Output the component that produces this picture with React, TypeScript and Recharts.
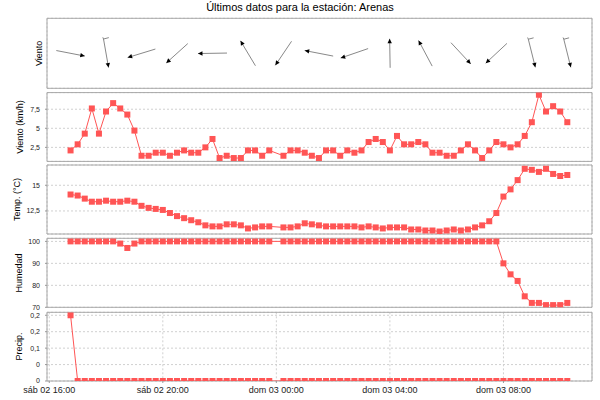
import React from 'react';
import { ComposedChart, Line, Scatter, XAxis, YAxis, CartesianGrid, ReferenceArea } from 'recharts';

const chartTitle = 'Últimos datos para la estación: Arenas';

const times = [
  '16:45', '17:00', '17:15', '17:30', '17:45',
  '18:00', '18:15', '18:30', '18:45',
  '19:00', '19:15', '19:30', '19:45',
  '20:00', '20:15', '20:30', '20:45',
  '21:00', '21:15', '21:30', '21:45',
  '22:00', '22:15', '22:30', '22:45',
  '23:00', '23:15', '23:30', '23:45',
  '00:15', '00:30', '00:45',
  '01:00', '01:15', '01:30', '01:45',
  '02:00', '02:15', '02:30', '02:45',
  '03:00', '03:15', '03:30', '03:45',
  '04:00', '04:15', '04:30', '04:45',
  '05:00', '05:15', '05:30', '05:45',
  '06:00', '06:15', '06:30', '06:45',
  '07:00', '07:15', '07:30', '07:45',
  '08:00', '08:15', '08:30', '08:45',
  '09:00', '09:15', '09:30', '09:45',
  '10:00', '10:15',
];

const windSpeed = [
  2.1, 2.9, 4.3, 7.6, 4.3,
  7.2, 8.3, 7.6, 6.8,
  4.7, 1.4, 1.4, 1.8,
  1.8, 1.4, 1.8, 2.1,
  1.8, 1.8, 2.5, 3.6,
  1.1, 1.4, 1.1, 1.1,
  2.1, 2.1, 1.4, 2.1,
  1.4, 2.1, 2.1,
  1.8, 1.4, 1.1, 2.1,
  2.1, 1.4, 2.1, 1.8,
  2.1, 3.2, 3.6, 3.2,
  2.1, 4.0, 2.9, 2.9,
  3.2, 2.9, 1.8, 1.8,
  1.4, 1.4, 2.1, 2.9,
  2.1, 1.1, 2.1, 3.2,
  2.9, 2.5, 2.9, 4.0,
  5.8, 9.4, 7.2, 7.9,
  7.2, 5.8,
];

const temperature = [
  14.1, 14.0, 13.7, 13.4, 13.4,
  13.5, 13.4, 13.4, 13.5,
  13.4, 13.0, 12.8, 12.7,
  12.6, 12.3, 12.0, 11.8,
  11.6, 11.4, 11.1, 11.0,
  11.0, 11.2, 11.2, 11.1,
  10.8, 10.9, 11.0, 11.0,
  10.9, 10.9, 11.0,
  11.3, 11.2, 11.1, 11.0,
  11.0, 11.0, 11.0, 11.0,
  10.9, 11.0, 10.9, 10.8,
  10.9, 10.9, 10.9, 10.7,
  10.7, 10.6, 10.6, 10.5,
  10.6, 10.7, 10.6, 10.7,
  10.9, 11.1, 11.5, 12.3,
  13.9, 14.6, 15.5, 16.6,
  16.5, 16.3, 16.6, 16.1,
  15.9, 16.0,
];

const humidity = [
  100, 100, 100, 100, 100,
  100, 100, 99, 97,
  99, 100, 100, 100,
  100, 100, 100, 100,
  100, 100, 100, 100,
  100, 100, 100, 100,
  100, 100, 100, 100,
  100, 100, 100,
  100, 100, 100, 100,
  100, 100, 100, 100,
  100, 100, 100, 100,
  100, 100, 100, 100,
  100, 100, 100, 100,
  100, 100, 100, 100,
  100, 100, 100, 100,
  90, 85, 82, 75,
  72, 72, 71, 71,
  71, 72,
];

const precipitation = [
  0.2, 0, 0, 0, 0,
  0, 0, 0, 0,
  0, 0, 0, 0,
  0, 0, 0, 0,
  0, 0, 0, 0,
  0, 0, 0, 0,
  0, 0, 0, 0,
  0, 0, 0,
  0, 0, 0, 0,
  0, 0, 0, 0,
  0, 0, 0, 0,
  0, 0, 0, 0,
  0, 0, 0, 0,
  0, 0, 0, 0,
  0, 0, 0, 0,
  0, 0, 0, 0,
  0, 0, 0, 0,
  0, 0,
];

const windDirTimes = [
  '16:45', '18:00', '19:15', '20:30', '21:45', '23:00', '00:15', '01:30',
  '02:45', '04:00', '05:15', '06:30', '07:45', '09:00', '10:15',
];
// direction the wind comes from, degrees
const windFrom = [281, 350, 73, 48, 89, 149, 34, 101, 71, 179, 152, 317, 47, 346, 346];

const xTickValues = [0, 4, 8, 12, 16];
const xTickLabels = ['sáb 02 16:00', 'sáb 02 20:00', 'dom 03 00:00', 'dom 03 04:00', 'dom 03 08:00'];
const dirGridTicks = [1, 2, 3, 4];
const speedTicks = [2.5, 5, 7.5];
const tempTicks = [12.5, 15];
const humTicks = [70, 80, 90, 100];
const precipTicks = [0, 0.05, 0.1, 0.15, 0.2];
const precipTickLabels = ['0', '0', '0,1', '0,2', '0,2'];

const toHours = (s: string) => {
  const [h, m] = s.split(':').map(Number);
  return (h < 16 ? h + 24 : h) - 16 + m / 60;
};

const rows = times.map((t, i) => ({
  t: toHours(t),
  speed: windSpeed[i],
  temp: temperature[i],
  hum: humidity[i],
  rain: precipitation[i],
}));

const arrows = windDirTimes.map((t, i) => ({ t: toHours(t), y: 2.1, from: windFrom[i] }));

const X_DOMAIN: [number, number] = [-0.08, 19.12];
const FONT = '"Liberation Sans", Arial, Helvetica, sans-serif';
const RED = '#ff5555';
const BORDER = '#a8a8a8';
const GRID = '#d0d0d0';

const comma = (v: number) => String(v).replace('.', ',');

const square = (p: any) => {
  if (p.cx == null || p.cy == null) return <g key={`d${p.index}`} />;
  return <rect key={`d${p.index}`} x={p.cx - 3} y={p.cy - 3} width={6} height={6} fill={RED} />;
};

const arrowShape = (p: any) => {
  const { cx, cy, payload } = p;
  const a = (((payload.from + 180) % 360) * Math.PI) / 180;
  const ux = Math.sin(a);
  const uy = -Math.cos(a);
  const L = 29;
  const hx = cx + (ux * L) / 2;
  const hy = cy + (uy * L) / 2;
  const tx = cx - (ux * L) / 2;
  const ty = cy - (uy * L) / 2;
  const px = -uy;
  const py = ux;
  const bx = hx - ux * 4.5;
  const by = hy - uy * 4.5;
  const tri = `${hx},${hy} ${bx + px * 2.2},${by + py * 2.2} ${bx - px * 2.2},${by - py * 2.2}`;
  const southward = uy > 0.9;
  return (
    <g>
      <line x1={tx} y1={ty} x2={hx} y2={hy} stroke="#6a6a6a" strokeWidth={0.8} />
      <polygon points={tri} fill="#000" />
      {southward && (
        <>
          <line x1={tx} y1={ty} x2={tx + 5.3} y2={ty - 1.4} stroke="#6a6a6a" strokeWidth={0.8} />
          <line x1={tx} y1={ty} x2={tx - 0.7} y2={ty - 1.7} stroke="#6a6a6a" strokeWidth={0.8} />
        </>
      )}
    </g>
  );
};

type PanelProps = {
  top: number;
  height: number;
  yDomain: [number, number];
  yTicks: number[];
  yFmt?: (v: number, i: number) => string;
  showYTicks?: boolean;
  bottomAxis?: boolean;
  children?: React.ReactNode;
};

const Panel = ({ top, height, yDomain, yTicks, yFmt, showYTicks = true, bottomAxis = false, children }: PanelProps) => (
  <div style={{ position: 'absolute', left: 0, top: 0 }}>
    <ComposedChart
      width={600}
      height={400}
      data={rows}
      margin={{ top, right: 8, left: 0, bottom: bottomAxis ? 0 : 400 - top - height }}
    >
      <CartesianGrid stroke={GRID} strokeDasharray="2 2" />
      {bottomAxis ? (
        <XAxis
          dataKey="t"
          type="number"
          domain={X_DOMAIN}
          allowDataOverflow
          ticks={xTickValues}
          tickFormatter={(v: number, i: number) => xTickLabels[i]}
          height={19}
          axisLine={false}
          tickSize={2}
          tickMargin={4}
          tickLine={{ stroke: '#999' }}
          tick={{ fontSize: 9, fill: '#222', fontFamily: FONT }}
          interval={0}
        />
      ) : (
        <XAxis
          dataKey="t"
          type="number"
          domain={X_DOMAIN}
          allowDataOverflow
          ticks={xTickValues}
          height={0}
          tick={false}
          tickLine={false}
          axisLine={false}
        />
      )}
      <YAxis
        type="number"
        domain={yDomain}
        allowDataOverflow
        ticks={yTicks}
        width={47}
        interval={0}
        axisLine={false}
        tickSize={2}
        tickMargin={5}
        tickLine={showYTicks ? { stroke: '#999' } : false}
        tick={showYTicks ? { fontSize: 7, fill: '#222', fontFamily: FONT } : false}
        tickFormatter={yFmt}
      />
      {children}
      <ReferenceArea
        x1={X_DOMAIN[0]}
        x2={X_DOMAIN[1]}
        y1={yDomain[0]}
        y2={yDomain[1]}
        fill="none"
        stroke={BORDER}
        strokeWidth={1}
        ifOverflow="visible"
      />
    </ComposedChart>
  </div>
);

const series = (key: string) => (
  <Line
    dataKey={key}
    type="linear"
    stroke={RED}
    strokeWidth={1}
    dot={square}
    activeDot={false}
    isAnimationActive={false}
  />
);

const axisTitles = [
  { text: 'Viento', x: 41.7, cy: 53.3 },
  { text: 'Viento (km/h)', x: 23.1, cy: 127 },
  { text: 'Temp. (°C)', x: 19.8, cy: 199.5 },
  { text: 'Humedad', x: 22, cy: 273 },
  { text: 'Precip.', x: 22.4, cy: 346.5 },
];

export default function App() {
  return (
    <div style={{ position: 'absolute', left: 0, top: 0, width: 600, height: 400, background: '#fff', overflow: 'hidden' }}>
      <Panel top={18.3} height={70} yDomain={[0, 4.2]} yTicks={dirGridTicks} showYTicks={false}>
        <Scatter data={arrows} dataKey="y" shape={arrowShape} isAnimationActive={false} />
      </Panel>
      <Panel top={92.6} height={68.8} yDomain={[0.66, 9.68]} yTicks={speedTicks} yFmt={comma}>
        {series('speed')}
      </Panel>
      <Panel top={165} height={69} yDomain={[10.26, 16.97]} yTicks={tempTicks} yFmt={comma}>
        {series('temp')}
      </Panel>
      <Panel top={238.3} height={69} yDomain={[70, 101.4]} yTicks={humTicks} yFmt={comma}>
        {series('hum')}
      </Panel>
      <Panel
        top={312.3}
        height={68.7}
        yDomain={[0, 0.209]}
        yTicks={precipTicks}
        yFmt={(v: number, i: number) => precipTickLabels[i]}
        bottomAxis
      >
        {series('rain')}
      </Panel>
      <svg width={600} height={400} style={{ position: 'absolute', left: 0, top: 0, pointerEvents: 'none' }}>
        <text x={300} y={11} textAnchor="middle" fontSize={11} fontFamily={FONT} fill="#000">
          {chartTitle}
        </text>
        {axisTitles.map((a) => (
          <text
            key={a.text}
            x={a.x}
            y={a.cy}
            transform={`rotate(-90 ${a.x} ${a.cy})`}
            textAnchor="middle"
            fontSize={9}
            fontFamily={FONT}
            fill="#000"
          >
            {a.text}
          </text>
        ))}
      </svg>
    </div>
  );
}
